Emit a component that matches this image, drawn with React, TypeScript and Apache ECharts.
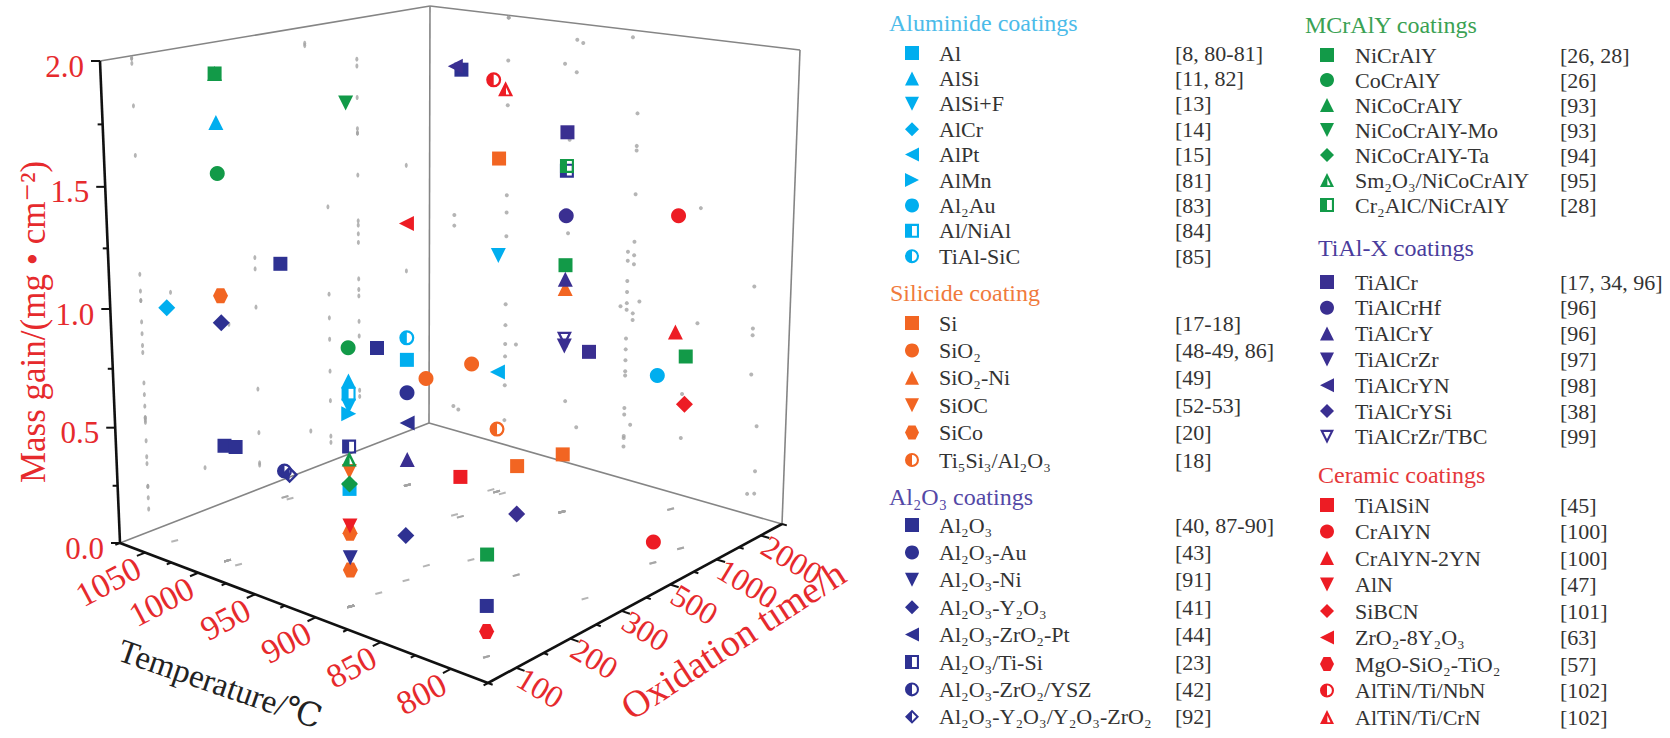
import * as echarts from "echarts";
import { useEffect, useRef } from "react";

const FONT = "'Liberation Serif', 'Times New Roman', 'DejaVu Serif', serif";
const RED = "#e62a2d";
const INK = "#333333";

// axis tick labels
const tempLabels = [1050, 1000, 950, 900, 850, 800];
const timeLabels = [100, 200, 300, 500, 1000, 2000];
const massLabels = [0, 0.5, 1, 1.5, 2];

// points are [temperature ℃, oxidation time h, mass gain mg/cm²]
const aluminideNames = ["Al", "AlSi", "AlSi+F", "AlCr", "AlPt", "AlMn", "Al₂Au", "Al/NiAl", "TiAl-SiC"];
const aluminideRefs = ["[8, 80-81]", "[11, 82]", "[13]", "[14]", "[15]", "[81]", "[83]", "[84]", "[85]"];
const aluminideShapes = ["sq", "tu", "td", "di", "tl", "tr", "ci", "hsq", "hci"];
const aluminidePoints = [
  [[1000, 700, 0.58], [895, 100, 0.48]],
  [[1000, 100, 1.8], [895, 100, 0.91]],
  [[945, 1000, 1.07], [895, 100, 0.81]],
  [[1050, 100, 1.0]],
  [[945, 1000, 0.55]],
  [[895, 100, 0.78]],
  [[800, 700, 0.79]],
  [[895, 100, 0.86]],
  [[1000, 700, 0.68]],
];

const silicideNames = ["Si", "SiO₂", "SiO₂-Ni", "SiOC", "SiCo", "Ti₅Si₃/Al₂O₃"];
const silicideRefs = ["[17-18]", "[48-49, 86]", "[49]", "[52-53]", "[20]", "[18]"];
const silicideShapes = ["sq", "ci", "tu", "td", "hex", "hci"];
const silicidePoints = [
  [[945, 1000, 1.49], [850, 300, 0.46], [890, 1000, 0.26]],
  [[900, 250, 0.79], [885, 300, 0.83]],
  [[890, 1000, 0.99]],
  [[895, 100, 0.55]],
  [[1000, 100, 1.11], [895, 100, 0.3], [895, 100, 0.15]],
  [[945, 1000, 0.29]],
];

const aluminaNames = ["Al₂O₃", "Al₂O₃-Au", "Al₂O₃-Ni", "Al₂O₃-Y₂O₃", "Al₂O₃-ZrO₂-Pt", "Al₂O₃/Ti-Si", "Al₂O₃-ZrO₂/YSZ", "Al₂O₃-Y₂O₃/Y₂O₃-ZrO₂"];
const aluminaRefs = ["[40, 87-90]", "[43]", "[91]", "[41]", "[44]", "[23]", "[42]", "[92]"];
const aluminaShapes = ["sq", "ci", "td", "di", "tl", "hsq", "hci", "hdi"];
const aluminaPoints = [
  [[1050, 300, 1.05], [895, 150, 1.0], [1000, 100, 0.49], [990, 100, 0.5], [795, 100, 0.2], [935, 500, 1.92]],
  [[1000, 700, 0.43]],
  [[895, 100, 0.2]],
  [[1000, 100, 1.0], [895, 200, 0.19]],
  [[1000, 700, 0.29]],
  [[895, 100, 0.65], [890, 1000, 1.49]],
  [[1050, 300, 0.12]],
  [[1045, 300, 0.11]],
];

const mcralyNames = ["NiCrAlY", "CoCrAlY", "NiCoCrAlY", "NiCoCrAlY-Mo", "NiCoCrAlY-Ta", "Sm₂O₃/NiCoCrAlY", "Cr₂AlC/NiCrAlY"];
const mcralyRefs = ["[26, 28]", "[26]", "[93]", "[93]", "[94]", "[95]", "[28]"];
const mcralyShapes = ["sq", "ci", "tu", "td", "di", "htu", "hsq"];
const mcralyPoints = [
  [[1000, 100, 1.99], [890, 1000, 1.09], [800, 1000, 0.82], [795, 100, 0.4]],
  [[1000, 100, 1.6], [895, 100, 1.04]],
  [[1000, 100, 1.99]],
  [[895, 100, 1.97]],
  [[895, 100, 0.5]],
  [[895, 100, 0.6]],
  [[890, 1000, 1.51]],
];

const tialNames = ["TiAlCr", "TiAlCrHf", "TiAlCrY", "TiAlCrZr", "TiAlCrYN", "TiAlCrYSi", "TiAlCrZr/TBC"];
const tialRefs = ["[17, 34, 96]", "[96]", "[96]", "[97]", "[98]", "[38]", "[99]"];
const tialShapes = ["sq", "ci", "tu", "td", "tl", "di", "htd"];
const tialPoints = [
  [[890, 1000, 1.65], [800, 300, 1.0]],
  [[890, 1000, 1.3]],
  [[890, 1000, 1.03], [1000, 700, 0.12]],
  [[890, 1000, 0.74]],
  [[940, 500, 1.93]],
  [[850, 300, 0.26]],
  [[890, 1000, 0.77]],
];

const ceramicNames = ["TiAlSiN", "CrAlYN", "CrAlYN-2YN", "AlN", "SiBCN", "ZrO₂-8Y₂O₃", "MgO-SiO₂-TiO₂", "AlTiN/Ti/NbN", "AlTiN/Ti/CrN"];
const ceramicRefs = ["[45]", "[100]", "[100]", "[47]", "[101]", "[63]", "[57]", "[102]", "[102]"];
const ceramicShapes = ["sq", "ci", "tu", "td", "di", "tl", "hex", "hci", "htu"];
const ceramicPoints = [
  [[935, 500, 0.18]],
  [[840, 2000, 1.29], [800, 700, 0.09]],
  [[840, 2000, 0.79]],
  [[895, 100, 0.33]],
  [[800, 1000, 0.62]],
  [[1000, 700, 1.19]],
  [[795, 100, 0.1]],
  [[950, 1000, 1.82]],
  [[940, 1000, 1.79]],
];

const groups = [
  { title: "Aluminide coatings", titleColor: "#4bbbe9", color: "#00aeef", names: aluminideNames, refs: aluminideRefs, shapes: aluminideShapes, points: aluminidePoints, x: 889, titleY: 23, top: 42, gap: 3.4 },
  { title: "Silicide coating", titleColor: "#f07a3c", color: "#f26522", names: silicideNames, refs: silicideRefs, shapes: silicideShapes, points: silicidePoints, x: 890, titleY: 293, top: 312, gap: 5.4 },
  { title: "Al₂O₃ coatings", titleColor: "#5448a6", color: "#2e3192", names: aluminaNames, refs: aluminaRefs, shapes: aluminaShapes, points: aluminaPoints, x: 889, titleY: 497, top: 514, gap: 5.4 },
  { title: "MCrAlY coatings", titleColor: "#3aa153", color: "#129a48", names: mcralyNames, refs: mcralyRefs, shapes: mcralyShapes, points: mcralyPoints, x: 1305, titleY: 25, top: 44, gap: 3 },
  { title: "TiAl-X coatings", titleColor: "#4a3c9c", color: "#3a2f91", names: tialNames, refs: tialRefs, shapes: tialShapes, points: tialPoints, x: 1318, titleY: 248, top: 271, gap: 3.8 },
  { title: "Ceramic coatings", titleColor: "#e5383b", color: "#ed1c24", names: ceramicNames, refs: ceramicRefs, shapes: ceramicShapes, points: ceramicPoints, x: 1318, titleY: 475, top: 494, gap: 4.5 },
];

// marker shapes; oriented triangles are drawn as paths so the legend shows them too
const SHAPES: Record<string, { symbol: string; size: number }> = {
  sq: { symbol: "rect", size: 14 },
  ci: { symbol: "circle", size: 15 },
  tu: { symbol: "path://M10 0L20 20L0 20Z", size: 15 },
  td: { symbol: "path://M0 0L20 0L10 20Z", size: 15 },
  tl: { symbol: "path://M0 10L20 0L20 20Z", size: 15 },
  tr: { symbol: "path://M0 0L20 10L0 20Z", size: 15 },
  di: { symbol: "diamond", size: 17 },
  hex: { symbol: "path://M5 0L15 0L20 10L15 20L5 20L0 10Z", size: 15 },
  hsq: { symbol: "path://M0 0L20 0L20 20L0 20Z M10 3L10 17L17 17L17 3Z", size: 14 },
  hci: { symbol: "path://M10 0A10 10 0 1 1 10 20A10 10 0 1 1 10 0Z M10 3L10 17A7 7 0 0 0 10 3Z", size: 15 },
  hdi: { symbol: "path://M10 0L20 10L10 20L0 10Z M10 4L10 16L16 10Z", size: 17 },
  htu: { symbol: "path://M10 0L20 20L0 20Z M10.5 8L10.5 17.5L15 17.5Z", size: 15 },
  htd: { symbol: "path://M0 0L20 0L10 20Z M5 3L10 13L15 3Z", size: 15 },
};

// box corners on screen: floor (mass 0) and lid (mass 2.0)
// order: T=1075/t-front, T=775/t-front, T=775/t-back, T=1075/t-back
const FLOOR = [[120, 543], [488, 683], [782, 524], [429, 423]];
const LID = [[100, 61], [492, 135], [800, 50], [430, 6]];

// perspective-ish foreshortening along each axis
const warp = (x: number, k: number) => x / (k - (k - 1) * x);

function project(u: number, v: number, w: number): number[] {
  const a = warp(u, 1.233);
  const b = warp(v, 0.86);
  const c = warp(w, 1.06);
  const bil = (p: number[][], i: number) =>
    (1 - a) * (1 - b) * p[0][i] + a * (1 - b) * p[1][i] + a * b * p[2][i] + (1 - a) * b * p[3][i];
  return [0, 1].map((i) => (1 - c) * bil(FLOOR, i) + c * bil(LID, i));
}

const uOf = (T: number) => (1075 - T) / 300;
function vOf(t: number) {
  let idx = (t - timeLabels[0]) / (timeLabels[1] - timeLabels[0]);
  for (let i = 0; i < timeLabels.length - 1; i++) {
    if (t >= timeLabels[i] && t <= timeLabels[i + 1]) {
      idx = i + (t - timeLabels[i]) / (timeLabels[i + 1] - timeLabels[i]);
    }
  }
  return (idx + 0.5) / 6;
}
const wOf = (m: number) => m / 2;
const toScreen = (p: number[]) => project(uOf(p[0]), vOf(p[1]), wOf(p[2]));

function buildGraphics() {
  const els: any[] = [];
  const seg = (a: number[], b: number[], stroke: string, lineWidth: number) =>
    els.push({ type: "line", silent: true, z: 0, shape: { x1: a[0], y1: a[1], x2: b[0], y2: b[1] }, style: { stroke, lineWidth } });
  const text = (x: number, y: number, str: string, style: any, rotation = 0) =>
    els.push({ type: "text", silent: true, x, y, rotation, style: { text: str, fontFamily: FONT, ...style } });

  const grey = "#858585";
  seg(project(0, 1, 0), project(0, 1, 1), grey, 1.6);
  seg(project(0, 0, 1), project(0, 1, 1), grey, 1.6);
  seg(project(0, 1, 1), project(1, 1, 1), grey, 1.6);
  seg(project(1, 1, 0), project(1, 1, 1), grey, 1.6);
  seg(project(0, 0, 0), project(0, 1, 0), grey, 1.6);
  seg(project(0, 1, 0), project(1, 1, 0), grey, 1.6);

  const black = "#111111";
  seg(project(0, 0, 0), project(0, 0, 1), black, 2.6);
  seg(project(0, 0, 0), project(1, 0, 0), black, 2.6);
  seg(project(1, 0, 0), project(1, 1, 0), black, 2.6);

  // mass ticks every 0.25
  for (let k = 0; k <= 8; k++) {
    const p = project(0, 0, wOf(k * 0.25));
    seg(p, [p[0] - (k % 2 === 0 ? 9 : 5), p[1]], black, 2);
  }
  massLabels.forEach((m) => {
    const p = project(0, 0, wOf(m));
    text(p[0] - 16, p[1] + 5, m.toFixed(1), { fill: RED, fontSize: 31, align: "right", verticalAlign: "middle" });
  });

  // temperature ticks every 25 ℃
  for (let k = 0; k <= 12; k++) {
    const u = uOf(1075 - 25 * k);
    const p = project(u, 0, 0);
    const q = project(u, -0.05, 0);
    const d = Math.hypot(q[0] - p[0], q[1] - p[1]);
    const len = k % 2 === 1 ? 9 : 5;
    seg(p, [p[0] + ((q[0] - p[0]) / d) * len, p[1] + ((q[1] - p[1]) / d) * len], black, 2);
  }
  tempLabels.forEach((T) => {
    const p = project(uOf(T), 0, 0);
    text(p[0] - 15, p[1] - 2, String(T), { fill: RED, fontSize: 34, align: "right", verticalAlign: "top" }, (28 * Math.PI) / 180);
  });

  // time ticks at half steps
  for (let k = 0; k <= 12; k++) {
    const v = k / 12;
    const p = project(1, v, 0);
    const q = project(1.05, v, 0);
    const d = Math.hypot(q[0] - p[0], q[1] - p[1]);
    const len = k % 2 === 1 ? 9 : 5;
    seg(p, [p[0] + ((q[0] - p[0]) / d) * len, p[1] + ((q[1] - p[1]) / d) * len], black, 2);
  }
  timeLabels.forEach((t) => {
    const p = project(1, vOf(t), 0);
    text(p[0] + 12, p[1] - 6, String(t), { fill: RED, fontSize: 32, align: "left", verticalAlign: "top" }, (-31 * Math.PI) / 180);
  });

  text(33, 322, "Mass gain/(mg • cm⁻²)", { fill: RED, fontSize: 35, align: "center", verticalAlign: "middle" }, Math.PI / 2);
  text(220, 684, "Temperature/℃", { fill: "#222222", fontSize: 33, align: "center", verticalAlign: "middle" }, (-19 * Math.PI) / 180);
  text(733, 640, "Oxidation time/h", { fill: RED, fontSize: 38, align: "center", verticalAlign: "middle" }, (33 * Math.PI) / 180);

  groups.forEach((g) => text(g.x, g.titleY, g.title, { fill: g.titleColor, fontSize: 24, verticalAlign: "middle" }));
  return els;
}

function App() {
  const chartRef = useRef<HTMLDivElement>(null);

  useEffect(() => {
    document.body.style.margin = "0";
    document.body.style.overflow = "hidden";
    const chart = echarts.init(chartRef.current, null, { renderer: "svg" });

    const allPoints = groups.flatMap((g) => g.points.flat());
    const shadow = { type: "scatter", silent: true, z: 1, itemStyle: { color: "#a3a3a3" }, emphasis: { disabled: true } };

    const markSeries = groups.flatMap((g) =>
      g.names.map((name, i) => {
        const s = SHAPES[g.shapes[i]];
        return {
          type: "scatter",
          name,
          symbol: s.symbol,
          symbolSize: s.size,
          itemStyle: { color: g.color, opacity: 1 },
          emphasis: { disabled: true },
          z: name === "NiCoCrAlY" ? 2.5 : 3,
          data: g.points[i].map(toScreen),
        };
      })
    );

    const options = {
      animation: false,
      backgroundColor: "#ffffff",
      grid: { left: 0, right: 0, top: 0, bottom: 0 },
      xAxis: { type: "value", min: 0, max: 1670, show: false },
      yAxis: { type: "value", min: 0, max: 738, inverse: true, show: false },
      legend: groups.map((g, gi) => {
        const col2 = gi >= 3;
        const refOf: Record<string, string> = {};
        g.names.forEach((n, i) => (refOf[n] = g.refs[i]));
        const base = { fontFamily: FONT, fontSize: 22, color: INK, lineHeight: 22 };
        return {
          orient: "vertical",
          left: col2 ? 1320 : 905,
          top: g.top,
          padding: 0,
          itemGap: g.gap,
          itemWidth: 14,
          itemHeight: 14,
          selectedMode: false,
          data: g.names,
          formatter: (name: string) => `{s| }{n|${name}}{r|${refOf[name]}}`,
          textStyle: {
            ...base,
            rich: {
              s: { ...base, width: col2 ? 16 : 15 },
              n: { ...base, width: col2 ? 205 : 236 },
              r: base,
            },
          },
        };
      }),
      graphic: buildGraphics(),
      series: [
        { ...shadow, symbol: "circle", symbolSize: [3, 5], data: allPoints.map((p) => project(0, vOf(p[1]), wOf(p[2]))) },
        { ...shadow, symbol: "circle", symbolSize: [4, 4], data: allPoints.map((p) => project(uOf(p[0]), 1, wOf(p[2]))) },
        { ...shadow, symbol: "rect", symbolSize: [7, 2], symbolRotate: 15, data: allPoints.map((p) => project(uOf(p[0]), vOf(p[1]), 0)) },
        ...markSeries,
      ],
    };

    chart.setOption(options);

    return () => {
      chart.dispose();
    };
  }, []);

  return <div ref={chartRef} style={{ width: "1670px", height: "738px" }} />;
}

export default App;
